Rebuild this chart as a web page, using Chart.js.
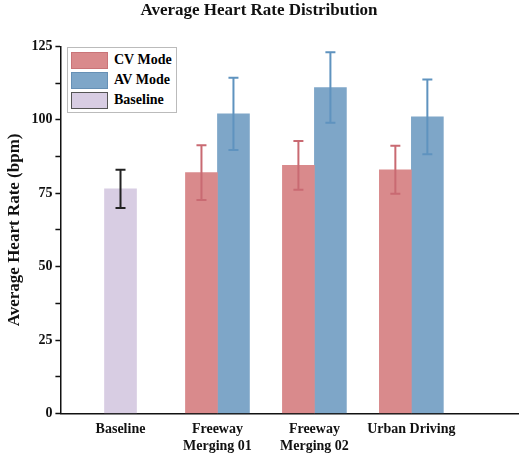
<!DOCTYPE html>
<html><head><meta charset="utf-8">
<script src="https://cdn.jsdelivr.net/npm/chart.js@4"></script>
<style>
body{margin:0;background:#fff;font-family:"Liberation Serif",serif;}
#wrap{position:relative;width:520px;height:463px;}
#legend{position:absolute;left:67px;top:47px;border:1px solid #bbb;background:#fff;padding:2px 4px 2px 3px;font:bold 14px "Liberation Serif",serif;}
#legend div{display:flex;align-items:center;height:20px;}
#legend span.b{display:inline-block;width:35px;height:15px;margin-right:6px;border:1px solid #999;}
</style></head>
<body><div id="wrap"><canvas id="c" width="520" height="463"></canvas>
<div id="legend">
<div><span class="b" style="background:#d98a8c;border-color:#c97478"></span>CV Mode</div>
<div><span class="b" style="background:#7ea6c8;border-color:#6690b5"></span>AV Mode</div>
<div><span class="b" style="background:#d8cde3;border-color:#555"></span>Baseline</div>
</div></div>
<script>
const categories=["Baseline",["Freeway","Merging 01"],["Freeway","Merging 02"],"Urban Driving"];
const cvMean=[null,82,84.5,83];
const cvErr=[null,9.3,8.3,8.2];
const avMean=[null,102,111,101];
const avErr=[null,12.3,12,12.7];
const baseMean=[76.5,null,null,null];
const baseErr=[6.5,null,null,null];
const pts=a=>a.map((v,i)=>({x:i,y:v}));
const F="Liberation Serif";
const errPlugin={id:'err',afterDatasetsDraw(ch){
 const ctx=ch.ctx;
 ch.data.datasets.forEach((ds,di)=>{
  const meta=ch.getDatasetMeta(di);
  meta.data.forEach((el,i)=>{
   const v=ds.data[i].y, e=ds.err[i]; if(v==null||e==null)return;
   const ys=ch.scales.y, x=el.x, t=ys.getPixelForValue(v+e), b=ys.getPixelForValue(v-e);
   ctx.save();ctx.strokeStyle=ds.errColor;ctx.lineWidth=2;ctx.beginPath();
   ctx.moveTo(x,t);ctx.lineTo(x,b);ctx.moveTo(x-5,t);ctx.lineTo(x+5,t);ctx.moveTo(x-5,b);ctx.lineTo(x+5,b);
   ctx.stroke();ctx.restore();
  });
 });
}};
new Chart(document.getElementById('c'),{type:'bar',
data:{datasets:[
 {label:'Baseline',data:pts(baseMean),err:baseErr,backgroundColor:'#d8cde3',errColor:'#222',barThickness:32,skipNull:true},
 {label:'CV Mode',data:pts(cvMean),err:cvErr,backgroundColor:'#d98a8c',errColor:'#c96a72',barThickness:32,skipNull:true},
 {label:'AV Mode',data:pts(avMean),err:avErr,backgroundColor:'#7ea6c8',errColor:'#5f93bf',barThickness:32,skipNull:true}
]},
options:{responsive:false,animation:false,
 layout:{padding:{right:2,top:0,left:0,bottom:0}},
 plugins:{legend:{display:false},tooltip:{enabled:false},
  title:{display:true,text:'Average Heart Rate Distribution',font:{family:F,size:17,weight:'bold'},color:'#111',padding:{top:0,bottom:26}}},
 scales:{
  x:{type:'linear',min:-0.62,max:4.1,offset:false,bounds:'ticks',
   afterBuildTicks(s){s.ticks=[0,1,2,3].map(v=>({value:v}));},
   ticks:{autoSkip:false,maxRotation:0,callback:(v)=>categories[v],font:{family:F,size:14,weight:'bold'},color:'#111',padding:8},
   grid:{display:false,drawTicks:false,offset:false},border:{color:'#111',width:1.5}},
  y:{min:0,max:125,
   ticks:{stepSize:12.5,callback:v=>v%25===0?v:'',font:{family:F,size:14,weight:'bold'},color:'#111'},
   grid:{drawOnChartArea:false,tickLength:5,color:'#111',tickWidth:1.5},border:{color:'#111',width:1.5},
   title:{display:true,text:'Average Heart Rate (bpm)',font:{family:F,size:17,weight:'bold'},color:'#111'}}
 }},
plugins:[errPlugin]});
</script></body></html>
